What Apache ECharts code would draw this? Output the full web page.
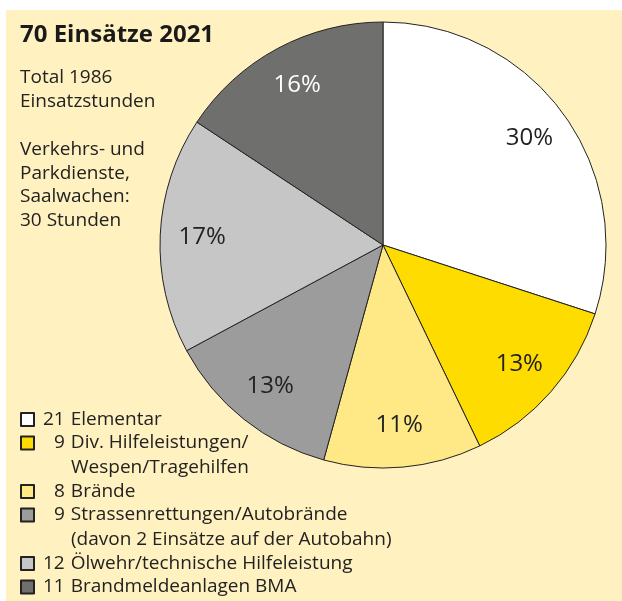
<!DOCTYPE html>
<html>
<head>
<meta charset="utf-8">
<script src="https://cdn.jsdelivr.net/npm/echarts@6/dist/echarts.min.js"></script>
<style>
  html, body { margin: 0; padding: 0; background: #fff; }
  #chart { width: 622px; height: 601px; }
</style>
</head>
<body>
<div id="chart"></div>
<script>
// Einsätze 2021 nach Art
const names = [
  'Elementar',
  'Div. Hilfeleistungen/\nWespen/Tragehilfen',
  'Brände',
  'Strassenrettungen/Autobrände\n(davon 2 Einsätze auf der Autobahn)',
  'Ölwehr/technische Hilfeleistung',
  'Brandmeldeanlagen BMA'
];
const counts = [21, 9, 8, 9, 12, 11];

const sliceColors = ['#ffffff', '#ffdc00', '#fee986', '#9c9c9c', '#c6c6c6', '#6f6f6e'];
const labelColors = ['#222', '#222', '#222', '#222', '#222', '#fff'];

const FONT = 'Open Sans';

let chart = echarts.init(document.getElementById('chart'));

let seriesData = names.map((n, i) => ({ name: n, value: counts[i] }));

// legend text: number right aligned, continuation lines indented
function legendText(name) {
  let i = names.indexOf(name);
  let lines = name.split('\n');
  let num = String(counts[i]);
  let first = '{' + (num.length > 1 ? 'n2' : 'n1') + '|' + num + '}{t|' + lines[0] + '}';
  let rest = lines.slice(1).map(l => '{c|' + l + '}');
  return [first].concat(rest).join('\n');
}

const txt = { fontFamily: FONT, fontSize: 19, color: '#222', lineHeight: 25 };

chart.setOption({
  backgroundColor: '#ffffff',
  color: sliceColors,
  graphic: [{
    type: 'rect',
    z: -10,
    shape: { x: 6, y: 10, width: 616, height: 591 },
    style: { fill: '#fff1c0' }
  }],
  title: {
    text: '70 Einsätze 2021',
    subtext: 'Total 1986\nEinsatzstunden\n\nVerkehrs- und\nParkdienste,\nSaalwachen:\n30 Stunden',
    left: 20,
    top: 21,
    padding: 0,
    itemGap: 17,
    textStyle: { fontFamily: FONT, fontSize: 24, fontWeight: 'bold', color: '#1a1a1a', lineHeight: 28 },
    subtextStyle: { fontFamily: FONT, fontSize: 19, color: '#222', lineHeight: 23.8 }
  },
  legend: {
    orient: 'vertical',
    left: 20,
    top: 410,
    padding: 0,
    itemGap: 4.5,
    itemWidth: 13,
    itemHeight: 13,
    icon: 'rect',
    selectedMode: false,
    data: names.map(n => ({
      name: n,
      textStyle: n.indexOf('\n') >= 0 ? { padding: [25, 0, 0, 0] } : {}
    })),
    formatter: legendText,
    textStyle: {
      fontFamily: FONT,
      fontSize: 19,
      color: '#222',
      rich: {
        n2: Object.assign({ padding: [0, 0, 0, 4] }, txt),
        n1: Object.assign({ padding: [0, 0, 0, 15] }, txt),
        t: Object.assign({ padding: [0, 0, 0, 6] }, txt),
        c: Object.assign({ padding: [0, 0, 0, 32] }, txt)
      }
    }
  },
  series: [
    {
      type: 'pie',
      center: [383, 245],
      radius: [0, 223],
      startAngle: 90,
      clockwise: true,
      silent: true,
      label: { show: false },
      labelLine: { show: false },
      itemStyle: { borderColor: '#222', borderWidth: 1 },
      data: seriesData
    },
    {
      // only carries the percent labels, placed at ~0.8 r
      type: 'pie',
      center: [383, 245],
      radius: [133, 223],
      startAngle: 90,
      clockwise: true,
      silent: true,
      percentPrecision: 0,
      itemStyle: { color: 'transparent', borderWidth: 0 },
      label: {
        show: true,
        position: 'inside',
        formatter: '{d}%',
        fontFamily: FONT,
        fontSize: 24,
        color: '#222'
      },
      labelLine: { show: false },
      data: seriesData.map((d, i) => ({
        name: d.name,
        value: d.value,
        label: { color: labelColors[i] }
      }))
    }
  ]
});
</script>
</body>
</html>
